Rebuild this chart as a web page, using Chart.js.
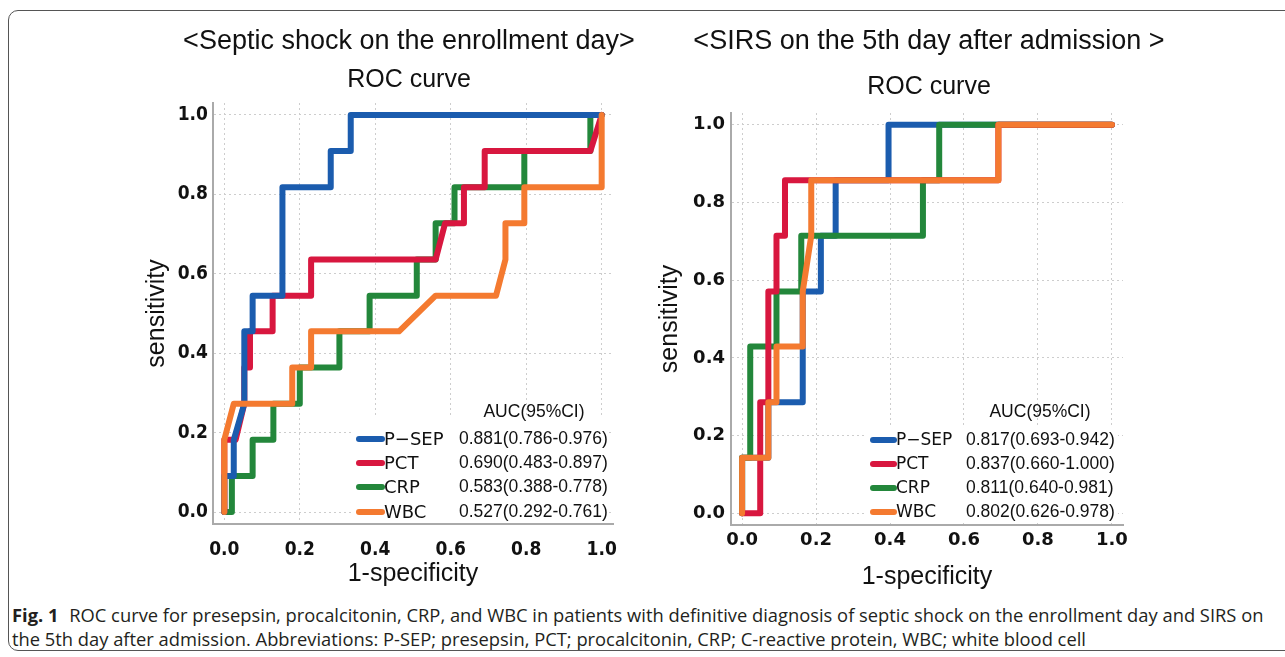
<!DOCTYPE html>
<html>
<head>
<meta charset="utf-8">
<script src="https://cdn.jsdelivr.net/npm/chart.js@4.4.1/dist/chart.umd.min.js"></script>
<style>
  html, body { margin: 0; padding: 0; background: #fff; }
  body { width: 1285px; height: 657px; position: relative; overflow: hidden; }
  .frame { position: absolute; left: 8px; top: 10px; width: 1300px; height: 641px;
           border: 1.5px solid #555; border-radius: 10px; box-sizing: border-box; }
  canvas { position: absolute; }
  #shockChart { left: 120px; top: 12px; }
  #sirsChart { left: 640px; top: 12px; }
  .caption { position: absolute; left: 12px; font-family: "Open Sans", sans-serif;
             font-size: 15.5px; color: #231f20; white-space: nowrap; }
  .caption b { font-weight: 700; margin-right: 6px; }
</style>
</head>
<body>
<div class="frame"></div>
<canvas id="shockChart" width="578" height="590"></canvas>
<canvas id="sirsChart" width="578" height="590"></canvas>
<div class="caption" id="cap1" style="top:602px"><b>Fig. 1</b> ROC curve for presepsin, procalcitonin, CRP, and WBC in patients with definitive diagnosis of septic shock on the enrollment day and SIRS on</div>
<div class="caption" id="cap2" style="top:626px">the 5th day after admission. Abbreviations: P-SEP; presepsin, PCT; procalcitonin, CRP; C-reactive protein, WBC; white blood cell</div>
<script>
// markers and axes
const seriesNames = ['P\u2212SEP', 'PCT', 'CRP', 'WBC'];
const tickValues = [0, 0.2, 0.4, 0.6, 0.8, 1.0];
const tickLabels = ['0.0', '0.2', '0.4', '0.6', '0.8', '1.0'];

// septic shock on the enrollment day (1-specificity / sensitivity)
const shockPsepX = [0, 0, 0.025, 0.025, 0.053, 0.053, 0.075, 0.075, 0.154, 0.154, 0.282, 0.282, 0.335, 0.335, 1.0];
const shockPsepY = [0, 0.091, 0.091, 0.182, 0.273, 0.455, 0.455, 0.545, 0.545, 0.818, 0.818, 0.909, 0.909, 1.0, 1.0];
const shockPctX = [0, 0, 0.03, 0.053, 0.053, 0.068, 0.068, 0.128, 0.128, 0.23, 0.23, 0.56, 0.585, 0.635, 0.635, 0.69, 0.69, 0.97, 1.0];
const shockPctY = [0, 0.182, 0.182, 0.273, 0.364, 0.364, 0.455, 0.455, 0.545, 0.545, 0.636, 0.636, 0.727, 0.727, 0.818, 0.818, 0.909, 0.909, 1.0];
const shockCrpX = [0, 0.02, 0.02, 0.075, 0.075, 0.13, 0.13, 0.2, 0.2, 0.305, 0.305, 0.385, 0.385, 0.51, 0.51, 0.56, 0.56, 0.61, 0.61, 0.795, 0.795, 0.97, 0.97, 1.0];
const shockCrpY = [0, 0, 0.091, 0.091, 0.182, 0.182, 0.273, 0.273, 0.364, 0.364, 0.455, 0.455, 0.545, 0.545, 0.636, 0.636, 0.727, 0.727, 0.818, 0.818, 0.909, 0.909, 1.0, 1.0];
const shockWbcX = [0, 0, 0.025, 0.18, 0.18, 0.23, 0.23, 0.463, 0.56, 0.72, 0.745, 0.745, 0.795, 0.795, 1.0, 1.0];
const shockWbcY = [0, 0.182, 0.273, 0.273, 0.364, 0.364, 0.455, 0.455, 0.545, 0.545, 0.636, 0.727, 0.727, 0.818, 0.818, 1.0];
const shockAuc = ['0.881(0.786-0.976)', '0.690(0.483-0.897)', '0.583(0.388-0.778)', '0.527(0.292-0.761)'];

// SIRS on the 5th day after admission
const sirsPsepX = [0, 0, 0.071, 0.071, 0.164, 0.164, 0.213, 0.213, 0.253, 0.253, 0.396, 0.396, 1.0];
const sirsPsepY = [0, 0.143, 0.143, 0.286, 0.286, 0.571, 0.571, 0.714, 0.714, 0.857, 0.857, 1.0, 1.0];
const sirsPctX = [0, 0.049, 0.049, 0.071, 0.071, 0.093, 0.093, 0.116, 0.116, 0.693, 0.693, 1.0];
const sirsPctY = [0, 0, 0.286, 0.286, 0.571, 0.571, 0.714, 0.714, 0.857, 0.857, 1.0, 1.0];
const sirsCrpX = [0, 0, 0.022, 0.022, 0.093, 0.093, 0.16, 0.16, 0.489, 0.489, 0.533, 0.533, 1.0];
const sirsCrpY = [0, 0.143, 0.143, 0.429, 0.429, 0.571, 0.571, 0.714, 0.714, 0.857, 0.857, 1.0, 1.0];
const sirsWbcX = [0, 0, 0.071, 0.071, 0.093, 0.093, 0.164, 0.164, 0.187, 0.187, 0.693, 0.693, 1.0];
const sirsWbcY = [0, 0.143, 0.143, 0.286, 0.286, 0.429, 0.429, 0.571, 0.714, 0.857, 0.857, 1.0, 1.0];
const sirsAuc = ['0.817(0.693-0.942)', '0.837(0.660-1.000)', '0.811(0.640-0.981)', '0.802(0.626-0.978)'];

const colors = ['#1b5cae', '#d8173f', '#23873b', '#f47a30'];

function pts(xs, ys) {
  return xs.map((x, i) => ({ x: x, y: ys[i] }));
}

// legend with AUC column, drawn over the lower right of the plot
const aucLegend = {
  id: 'aucLegend',
  afterDatasetsDraw(chart, args, o) {
    const ctx = chart.ctx;
    const a = chart.chartArea;
    ctx.save();
    ctx.fillStyle = '#fff';
    ctx.fillRect(a.left + o.boxX, a.bottom - o.boxTop, a.right - a.left - o.boxX - 5, o.boxTop - 2);
    ctx.textBaseline = 'middle';
    ctx.fillStyle = '#111';
    ctx.font = o.valueFont;
    ctx.textAlign = 'center';
    ctx.fillText('AUC(95%CI)', a.left + o.headerX, a.bottom - o.headerDy);
    ctx.textAlign = 'left';
    chart.data.datasets.forEach((ds, i) => {
      const y = a.bottom - o.rowDy[i];
      ctx.strokeStyle = ds.borderColor;
      ctx.lineWidth = 6;
      ctx.lineCap = 'round';
      ctx.beginPath();
      ctx.moveTo(a.left + o.markerX, y);
      ctx.lineTo(a.left + o.labelX - 2, y);
      ctx.stroke();
      ctx.fillStyle = '#111';
      ctx.font = o.labelFont;
      ctx.fillText(ds.label, a.left + o.labelX, y + 1);
      ctx.font = o.valueFont;
      ctx.fillText(o.values[i], a.left + o.valueX, y);
    });
    ctx.restore();
  }
};

function makeChart(id, cfg) {
  const datasets = cfg.series.map((s, i) => ({
    label: seriesNames[i],
    data: pts(s[0], s[1]),
    borderColor: colors[i],
    backgroundColor: colors[i],
    borderWidth: 6,
    pointRadius: 0,
    tension: 0,
    borderJoinStyle: 'round',
    borderCapStyle: 'round',
    fill: false,
    clip: false,
    order: cfg.order[i]
  }));
  const axisTitleFont = { family: "'Liberation Sans', Arial, sans-serif", size: 25 };
  return new Chart(document.getElementById(id), {
    type: 'line',
    data: { datasets: datasets },
    plugins: [aucLegend],
    options: {
      responsive: false,
      animation: false,
      devicePixelRatio: 1,
      layout: { padding: { top: 0, left: 0, right: 0, bottom: cfg.padBottom } },
      plugins: {
        legend: { display: false },
        tooltip: { enabled: false },
        title: {
          display: true, text: cfg.title, color: '#111',
          font: { family: "'Liberation Sans', Arial, sans-serif", size: 27, weight: 'normal' },
          padding: { top: 13.8, bottom: 0 }
        },
        subtitle: {
          display: true, text: 'ROC curve', color: '#111',
          font: { family: "'Liberation Sans', Arial, sans-serif", size: 25, weight: 'normal' },
          padding: cfg.subPad
        },
        aucLegend: Object.assign({ values: cfg.auc }, cfg.legend)
      },
      scales: {
        x: {
          type: 'linear', min: -0.03, max: 1.03,
          afterBuildTicks: (axis) => { axis.ticks = tickValues.map(v => ({ value: v })); },
          afterFit: (axis) => { axis.height = 70; },
          ticks: {
            callback: (v, i) => tickLabels[i],
            color: '#111', padding: cfg.xTickPad, maxRotation: 0,
            font: cfg.tickFont
          },
          grid: { color: '#cdcdcd', lineWidth: 1, drawTicks: false },
          border: { display: true, color: '#aaaaaa', width: 2, dash: [2, 3] },
          title: { display: true, text: '1-specificity', color: '#111', font: axisTitleFont,
                   padding: { top: 0, bottom: cfg.xTitlePad } }
        },
        y: {
          type: 'linear', min: -0.03, max: 1.03,
          afterBuildTicks: (axis) => { axis.ticks = tickValues.map(v => ({ value: v })); },
          afterFit: (axis) => { axis.width = cfg.yWidth; },
          ticks: {
            callback: (v, i) => tickLabels[i],
            color: '#111', padding: cfg.yTickPad,
            font: cfg.tickFont
          },
          grid: { color: '#cdcdcd', lineWidth: 1, drawTicks: false },
          border: { display: true, color: '#aaaaaa', width: 2, dash: [2, 3] },
          title: { display: true, text: 'sensitivity', color: '#111', font: axisTitleFont,
                   padding: { top: cfg.yTitlePad, bottom: 0 } }
        },
        // empty margin on the right so the titles centre on the whole figure half
        side: {
          type: 'linear', position: 'right', min: 0, max: 1,
          afterFit: (axis) => { axis.width = cfg.sideWidth; },
          ticks: { display: false },
          grid: { display: false, drawTicks: false },
          border: { display: false }
        }
      }
    }
  });
}

makeChart('shockChart', {
  title: '<Septic shock on the enrollment day>',
  series: [[shockPsepX, shockPsepY], [shockPctX, shockPctY], [shockCrpX, shockCrpY], [shockWbcX, shockWbcY]],
  order: [1, 2, 3, 0],
  auc: shockAuc,
  sideWidth: 85, padBottom: 8,
  subPad: { top: 6.8, bottom: 8 },
  yWidth: 93, yTickPad: 5, yTitlePad: 22,
  xTickPad: 15, xTitlePad: 4.5,
  tickFont: { family: "'DejaVu Sans Condensed', 'DejaVu Sans', sans-serif", size: 19, weight: 'bold' },
  legend: {
    boxX: 139, boxTop: 106, headerX: 321, headerDy: 112,
    rowDy: [85, 61, 37, 12], markerX: 146, labelX: 171, valueX: 246,
    labelFont: "18px 'DejaVu Sans', sans-serif",
    valueFont: "17.5px 'Liberation Sans', Arial, sans-serif"
  }
});

makeChart('sirsChart', {
  title: '<SIRS on the 5th day after admission >',
  series: [[sirsPsepX, sirsPsepY], [sirsPctX, sirsPctY], [sirsCrpX, sirsCrpY], [sirsWbcX, sirsWbcY]],
  order: [3, 1, 2, 0],
  auc: sirsAuc,
  sideWidth: 95, padBottom: 7,
  subPad: { top: 13.8, bottom: 11 },
  yWidth: 91, yTickPad: 6, yTitlePad: 15,
  xTickPad: 5, xTitlePad: 3,
  tickFont: { family: "'DejaVu Sans', sans-serif", size: 18, weight: 'bold' },
  legend: {
    boxX: 135, boxTop: 97, headerX: 309, headerDy: 113,
    rowDy: [85, 61, 37, 13], markerX: 142, labelX: 165, valueX: 235,
    labelFont: "17px 'DejaVu Sans', sans-serif",
    valueFont: "17.5px 'Liberation Sans', Arial, sans-serif"
  }
});

// size the caption so its first line spans the figure width
(function () {
  const target = 1253;
  const cap1 = document.getElementById('cap1');
  const fs = 15.5 * target / cap1.offsetWidth;
  ['cap1', 'cap2'].forEach((id) => {
    document.getElementById(id).style.fontSize = fs + 'px';
  });
})();
</script>
</body>
</html>
